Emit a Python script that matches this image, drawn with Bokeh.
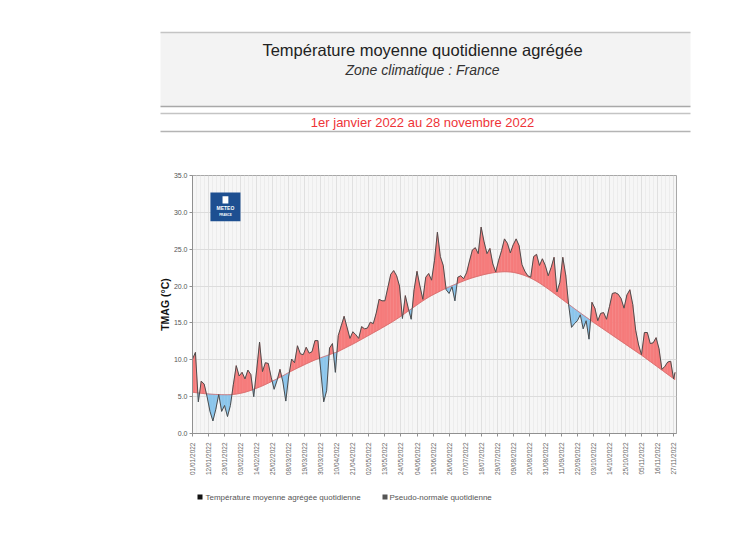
import math
from bokeh.plotting import figure
from bokeh.layouts import column
from bokeh.models import Range1d, FixedTicker, PrintfTickFormatter, Label
from bokeh.embed import file_html
from bokeh.resources import INLINE

# ---------------- texts ----------------
TITLE = "Température moyenne quotidienne agrégée"
SUBTITLE = "Zone climatique : France"
PERIOD = "1er janvier 2022 au 28 novembre 2022"
Y_LABEL = "TMAG (°C)"
LEGEND_TMAG = "Température moyenne agrégée  quotidienne"
LEGEND_NORMAL = "Pseudo-normale quotidienne"

# ---------------- data (day index from 01/01/2022) ----------------
DAYS = list(range(0, 331, 2)) + [331]

TMAG = [
    10.1, 11.0, 4.3, 7.1, 6.7, 5.0, 3.0, 1.7, 3.3, 5.3,
    3.0, 3.8, 2.3, 3.8, 6.6, 9.2, 7.8, 8.3, 7.4, 8.6,
    8.0, 5.0, 8.6, 12.4, 8.4, 9.6, 9.5, 7.6, 6.0, 7.2,
    8.7, 7.0, 4.4, 7.8, 10.1, 9.6, 11.9, 10.8, 10.7, 11.7,
    10.9, 11.1, 12.6, 12.6, 8.5, 4.3, 5.8, 11.6, 12.2, 8.3,
    13.3, 14.6, 15.9, 14.4, 12.9, 13.8, 13.4, 12.9, 14.5, 14.2,
    14.3, 15.1, 14.9, 16.3, 18.2, 18.0, 18.0, 19.8, 21.6, 22.1,
    21.4, 20.0, 15.6, 18.7, 17.0, 15.5, 19.5, 22.0, 20.0, 18.2,
    21.2, 21.7, 20.8, 23.5, 27.3, 24.0, 22.8, 19.5, 19.0, 19.9,
    18.0, 21.2, 21.4, 21.0, 21.8, 23.4, 24.9, 25.2, 24.4, 28.0,
    26.0, 24.4, 25.1, 23.0, 21.9, 23.5, 24.8, 26.4, 25.8, 24.5,
    25.6, 26.4, 25.5, 22.9, 22.0, 21.4, 21.2, 24.0, 24.3, 22.8,
    23.7, 22.8, 21.4, 22.5, 23.9, 19.2, 20.5, 23.9, 21.5, 17.5,
    14.4, 14.9, 15.3, 16.1, 14.2, 15.3, 12.8, 17.8, 17.0, 15.3,
    16.3, 16.4, 15.5, 17.2, 19.0, 19.1, 18.9, 18.3, 17.0, 18.8,
    19.5, 17.5, 14.0, 12.0, 10.7, 13.7, 13.7, 12.2, 12.3, 13.0,
    11.5, 8.7, 9.1, 9.7, 9.8, 7.4, 8.3,
]

NORMAL = [
    5.60, 5.55, 5.50, 5.45, 5.41, 5.38, 5.35, 5.32, 5.30, 5.28,
    5.27, 5.26, 5.26, 5.27, 5.30, 5.35, 5.42, 5.50, 5.60, 5.72,
    5.85, 6.00, 6.15, 6.30, 6.47, 6.65, 6.84, 7.03, 7.22, 7.42,
    7.62, 7.83, 8.05, 8.27, 8.48, 8.68, 8.88, 9.07, 9.26, 9.45,
    9.63, 9.81, 9.98, 10.13, 10.28, 10.42, 10.56, 10.70, 10.84, 10.98,
    11.13, 11.33, 11.53, 11.73, 11.93, 12.13, 12.34, 12.56, 12.78, 13.00,
    13.22, 13.44, 13.66, 13.88, 14.10, 14.33, 14.56, 14.79, 15.02, 15.26,
    15.52, 15.78, 16.05, 16.33, 16.61, 16.89, 17.17, 17.45, 17.73, 18.00,
    18.25, 18.50, 18.72, 18.93, 19.13, 19.33, 19.52, 19.70, 19.88, 20.05,
    20.22, 20.38, 20.54, 20.70, 20.85, 20.99, 21.12, 21.24, 21.35, 21.46,
    21.56, 21.65, 21.73, 21.80, 21.86, 21.90, 21.93, 21.95, 21.94, 21.91,
    21.86, 21.78, 21.68, 21.56, 21.42, 21.26, 21.08, 20.88, 20.66, 20.42,
    20.16, 19.89, 19.61, 19.32, 19.03, 18.74, 18.44, 18.14, 17.84, 17.54,
    17.24, 16.94, 16.65, 16.36, 16.07, 15.79, 15.51, 15.23, 14.95, 14.68,
    14.41, 14.14, 13.87, 13.60, 13.33, 13.06, 12.79, 12.52, 12.25, 11.98,
    11.71, 11.44, 11.17, 10.90, 10.63, 10.34, 10.05, 9.76, 9.47, 9.18,
    8.89, 8.60, 8.31, 8.02, 7.73, 7.44, 7.30,
]

TICK_DAYS = list(range(0, 331, 11))
TICK_LABELS = [
    "01/01/2022", "12/01/2022", "23/01/2022", "03/02/2022", "14/02/2022",
    "25/02/2022", "08/03/2022", "19/03/2022", "30/03/2022", "10/04/2022",
    "21/04/2022", "02/05/2022", "13/05/2022", "24/05/2022", "04/06/2022",
    "15/06/2022", "26/06/2022", "07/07/2022", "18/07/2022", "29/07/2022",
    "09/08/2022", "20/08/2022", "31/08/2022", "11/09/2022", "22/09/2022",
    "03/10/2022", "14/10/2022", "25/10/2022", "05/11/2022", "16/11/2022",
    "27/11/2022",
]
Y_TICKS = [0, 5, 10, 15, 20, 25, 30, 35]

RED = "#f67c7c"
BLUE = "#8cc6ec"
FONT = "Liberation Sans"

W = 747
H_HEAD = 168
H_MAIN = 317
H_LEG = 537 - H_HEAD - H_MAIN

# ---------------- header ----------------
head = figure(width=W, height=H_HEAD, x_range=Range1d(0, W), y_range=Range1d(H_HEAD, 0),
              toolbar_location=None, output_backend="svg", min_border=0,
              x_axis_location=None, y_axis_location=None)
head.frame_align = False
head.outline_line_color = None
head.xgrid.visible = False
head.ygrid.visible = False
head.quad(left=160, right=690, top=32, bottom=106, fill_color="#f3f3f3", line_color=None)
for yy, col in [(32, "#c4c4c4"), (106, "#a8a8a8"), (113, "#c4c4c4"), (131, "#b4b4b4")]:
    head.segment(x0=160, y0=yy, x1=690, y1=yy, line_color=col, line_width=1.5)
head.add_layout(Label(x=422, y=49, text=TITLE, text_align="center", text_baseline="middle",
                      text_font=FONT, text_font_size="16.5px", text_color="#222222"))
head.add_layout(Label(x=422, y=69, text=SUBTITLE, text_align="center", text_baseline="middle",
                      text_font=FONT, text_font_size="14px", text_font_style="italic",
                      text_color="#333333"))
head.add_layout(Label(x=422, y=122, text=PERIOD, text_align="center", text_baseline="middle",
                      text_font=FONT, text_font_size="13px", text_color="#ee3438"))

# ---------------- main chart ----------------
p = figure(width=W, height=H_MAIN, x_range=Range1d(0, 332), y_range=Range1d(0, 35),
           toolbar_location=None, output_backend="svg",
           min_border_left=192, min_border_right=71, min_border_top=7, min_border_bottom=52)
p.frame_align = False
p.background_fill_color = "#f6f6f6"
p.border_fill_color = "white"
p.outline_line_color = "#a8a8a8"

minor = [k * 11 / 4 for k in range(0, 121) if k % 4]
p.xaxis.ticker = FixedTicker(ticks=TICK_DAYS, minor_ticks=minor)
p.xaxis.major_label_overrides = {d: lab for d, lab in zip(TICK_DAYS, TICK_LABELS)}
p.xaxis.major_label_orientation = math.pi / 2
p.xaxis.major_label_text_font = FONT
p.xaxis.major_label_text_font_size = "6.5px"
p.xaxis.major_label_text_color = "#666666"
p.xaxis.minor_tick_line_color = None
p.xaxis.major_tick_out = 3
p.xaxis.major_tick_in = 0
p.xaxis.axis_line_color = "#909090"
p.xaxis.major_tick_line_color = "#909090"

p.yaxis.ticker = FixedTicker(ticks=Y_TICKS)
p.yaxis.formatter = PrintfTickFormatter(format="%.1f")
p.yaxis.major_label_text_font = FONT
p.yaxis.major_label_text_font_size = "7px"
p.yaxis.major_label_text_color = "#555555"
p.yaxis.major_label_standoff = 2
p.yaxis.minor_tick_line_color = None
p.yaxis.major_tick_out = 3
p.yaxis.major_tick_in = 0
p.yaxis.axis_line_color = "#909090"
p.yaxis.major_tick_line_color = "#909090"
p.yaxis.axis_label = Y_LABEL
p.yaxis.axis_label_text_font = FONT
p.yaxis.axis_label_text_font_size = "10.5px"
p.yaxis.axis_label_text_font_style = "bold"
p.yaxis.axis_label_text_color = "#111111"
p.yaxis.axis_label_standoff = 0

p.xgrid.grid_line_color = "#e0e0e0"
p.xgrid.minor_grid_line_color = "#ececec"
p.ygrid.grid_line_color = "#dcdcdc"

# anomaly fills between the daily value and the pseudo-normal
xs, ys, cols = [], [], []
for i in range(len(DAYS) - 1):
    x0, x1 = DAYS[i], DAYS[i + 1]
    t0, t1 = TMAG[i], TMAG[i + 1]
    n0, n1 = NORMAL[i], NORMAL[i + 1]
    a0, a1 = t0 - n0, t1 - n1
    if a0 * a1 >= 0:
        c = RED if (a0 + a1) >= 0 else BLUE
        xs.append([x0, x1, x1, x0]); ys.append([t0, t1, n1, n0]); cols.append(c)
    else:
        f = a0 / (a0 - a1)
        xc = x0 + f * (x1 - x0)
        yc = n0 + f * (n1 - n0)
        xs.append([x0, xc, x0]); ys.append([t0, yc, n0]); cols.append(RED if a0 > 0 else BLUE)
        xs.append([xc, x1, x1]); ys.append([yc, t1, n1]); cols.append(RED if a1 > 0 else BLUE)
p.patches(xs, ys, fill_color=cols, line_color=cols, line_width=0.4)

p.line(DAYS, NORMAL, line_color="#d46a6a", line_width=1, line_alpha=0.8)
p.line(DAYS, TMAG, line_color="#4d4d4d", line_width=1)

# Météo-France logo
p.quad(left=12.3, right=32.9, top=32.7, bottom=28.8, fill_color="#1d4f91", line_color=None)
p.quad(left=20.6, right=24.6, top=32.2, bottom=31.2, fill_color="white", line_color=None)
p.add_layout(Label(x=22.6, y=30.55, text="METEO", text_align="center", text_baseline="middle",
                   text_font=FONT, text_font_size="5px", text_font_style="bold", text_color="white"))
p.add_layout(Label(x=22.6, y=29.75, text="FRANCE", text_align="center", text_baseline="middle",
                   text_font=FONT, text_font_size="3px", text_font_style="bold", text_color="white"))

# ---------------- legend ----------------
leg = figure(width=W, height=H_LEG, x_range=Range1d(0, W), y_range=Range1d(H_LEG, 0),
             toolbar_location=None, output_backend="svg", min_border=0,
             x_axis_location=None, y_axis_location=None)
leg.frame_align = False
leg.outline_line_color = None
leg.xgrid.visible = False
leg.ygrid.visible = False
leg.quad(left=197, right=202, top=9, bottom=14, fill_color="#111111", line_color=None)
leg.quad(left=382, right=387, top=9, bottom=14, fill_color="#555555", line_color=None)
leg.add_layout(Label(x=205, y=11.5, text=LEGEND_TMAG, text_baseline="middle",
                     text_font=FONT, text_font_size="8px", text_color="#555555"))
leg.add_layout(Label(x=389, y=11.5, text=LEGEND_NORMAL, text_baseline="middle",
                     text_font=FONT, text_font_size="8px", text_color="#555555"))

layout = column(head, p, leg, spacing=0)
open("out.html", "w").write(file_html(layout, INLINE))
